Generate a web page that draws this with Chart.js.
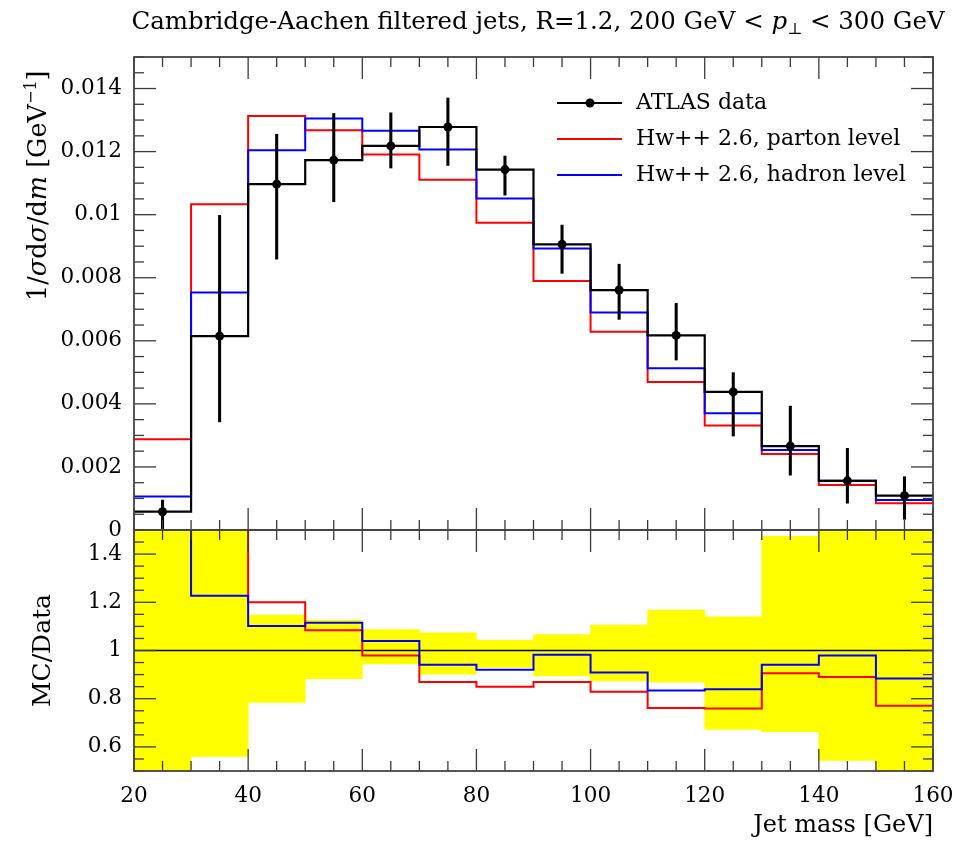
<!DOCTYPE html>
<html>
<head>
<meta charset="utf-8">
<script src="https://cdn.jsdelivr.net/npm/chart.js@4.4.1/dist/chart.umd.min.js"></script>
<style>
html,body{margin:0;padding:0;background:#ffffff;}
#wrap{position:relative;width:971px;height:844px;}
canvas{display:block;}
</style>
</head>
<body>
<div id="wrap"><canvas id="c" width="971" height="844"></canvas></div>
<script>
// ---------- data ----------
const binEdges   = [20, 30, 40, 50, 60, 70, 80, 90, 100, 110, 120, 130, 140, 150, 160];
const binCenters = [25, 35, 45, 55, 65, 75, 85, 95, 105, 115, 125, 135, 145, 155];

// ATLAS data: 1/sigma dsigma/dm [GeV^-1]
const dataVals  = [0.00058, 0.00615, 0.01097, 0.01173, 0.01218, 0.01278, 0.01143, 0.00906, 0.00761, 0.00617, 0.00438, 0.00266, 0.00156, 0.00109];
const dataErrLo = [0.00000, 0.00343, 0.00859, 0.01041, 0.01148, 0.01156, 0.01062, 0.00814, 0.00668, 0.00539, 0.00298, 0.00174, 0.00085, 0.00034];
const dataErrHi = [0.00095, 0.00998, 0.01255, 0.01321, 0.01323, 0.01370, 0.01186, 0.00967, 0.00843, 0.00719, 0.00499, 0.00393, 0.00259, 0.00169];

// Herwig++ 2.6
const partonVals = [0.00288, 0.01033, 0.01313, 0.01268, 0.01191, 0.01111, 0.00974, 0.00790, 0.00629, 0.00469, 0.00331, 0.00241, 0.00143, 0.00085];
const hadronVals = [0.00106, 0.00753, 0.01204, 0.01305, 0.01266, 0.01207, 0.01051, 0.00893, 0.00690, 0.00513, 0.00370, 0.00254, 0.00156, 0.00095];

// ratio panel (MC / Data)
const partonRatio = [4.97, 1.68, 1.200, 1.084, 0.979, 0.869, 0.850, 0.869, 0.829, 0.761, 0.759, 0.906, 0.890, 0.771];
const hadronRatio = [1.83, 1.227, 1.102, 1.115, 1.039, 0.941, 0.920, 0.982, 0.909, 0.834, 0.839, 0.941, 0.979, 0.884];
const bandLo = [0.00, 0.561, 0.785, 0.883, 0.944, 0.902, 0.930, 0.895, 0.874, 0.869, 0.673, 0.663, 0.544, 0.31];
const bandHi = [1.64, 1.62, 1.147, 1.126, 1.087, 1.073, 1.042, 1.066, 1.105, 1.168, 1.140, 1.474, 1.66, 1.55];

// tick labels
const xTickVals  = [20, 40, 60, 80, 100, 120, 140, 160];
const xTickLabels = ['20', '40', '60', '80', '100', '120', '140', '160'];
const yTickVals  = [0, 0.002, 0.004, 0.006, 0.008, 0.01, 0.012, 0.014];
const yTickLabels = ['0', '0.002', '0.004', '0.006', '0.008', '0.01', '0.012', '0.014'];
const rTickVals  = [0.6, 0.8, 1.0, 1.2, 1.4];
const rTickLabels = ['0.6', '0.8', '1', '1.2', '1.4'];

const seriesNames = ['ATLAS data', 'Hw++ 2.6, parton level', 'Hw++ 2.6, hadron level'];

// ---------- helpers ----------
const FONT = '"DejaVu Serif", "Liberation Serif", serif';
function histPoints(vals) {
  const pts = [];
  vals.forEach((v, i) => { pts.push({x: binEdges[i], y: v}); pts.push({x: binEdges[i + 1], y: v}); });
  return pts;
}
function drawRich(ctx, x, y, segs, measureOnly) {
  let cx = x;
  for (const s of segs) {
    ctx.font = s.font;
    if (!measureOnly) ctx.fillText(s.t, cx, y + (s.dy || 0));
    cx += ctx.measureText(s.t).width;
  }
  return cx - x;
}

// ---------- plugins ----------
const panelClip = {
  id: 'panelClip',
  beforeDatasetDraw(chart, args) {
    const ys = chart.scales[args.meta.yAxisID];
    const ca = chart.chartArea, ctx = chart.ctx;
    ctx.save();
    ctx.beginPath();
    ctx.rect(ca.left, ys.top, ca.right - ca.left, ys.bottom - ys.top);
    ctx.clip();
  },
  afterDatasetDraw(chart) { chart.ctx.restore(); }
};

const frameTicks = {
  id: 'frameTicks',
  afterDatasetsDraw(chart) {
    const ctx = chart.ctx, xs = chart.scales.x;
    const L = xs.left, R = xs.right;
    ctx.save();
    const seg = (x1, y1, x2, y2) => { ctx.beginPath(); ctx.moveTo(x1, y1); ctx.lineTo(x2, y2); ctx.stroke(); };
    const panels = [
      {id: 'y', min: 0, max: 0.015, minor: 0.0005, major: 0.002},
      {id: 'y2', min: 0.5, max: 1.5, minor: 0.05, major: 0.2}
    ];
    for (const p of panels) {
      const ys = chart.scales[p.id];
      const T = ys.top, B = ys.bottom;
      ctx.strokeStyle = '#3a3a3a';
      ctx.lineWidth = 1.3;
      for (let k = 0; k <= 28; k++) {
        const v = 20 + 5 * k;
        const px = xs.getPixelForValue(v);
        const len = (v % 20 === 0) ? 22 : 10;
        seg(px, T, px, T + len);
        seg(px, B, px, B - len);
      }
      const n = Math.round((p.max - p.min) / p.minor);
      for (let k = 0; k <= n; k++) {
        const v = p.min + k * p.minor;
        const q = v / p.major;
        const isMajor = Math.abs(q - Math.round(q)) < 1e-6;
        const py = ys.getPixelForValue(v);
        const len = isMajor ? 22 : 10;
        seg(L, py, L + len, py);
        seg(R, py, R - len, py);
      }
      ctx.lineWidth = 1.8;
      ctx.strokeStyle = '#444';
      ctx.strokeRect(L, T, R - L, B - T);
    }
    ctx.restore();
  }
};

const texts = {
  id: 'texts',
  afterDraw(chart) {
    const ctx = chart.ctx;
    ctx.save();
    ctx.fillStyle = '#000';
    ctx.textBaseline = 'alphabetic';
    ctx.textAlign = 'left';
    // plot title
    const reg = '24.5px ' + FONT, ita = 'italic 24.5px ' + FONT, sub = '16px ' + FONT;
    const tsegs = [
      {t: 'Cambridge-Aachen filtered jets, R=1.2, 200 GeV < ', font: reg},
      {t: 'p', font: ita},
      {t: '\u22A5', font: sub, dy: 5},
      {t: ' < 300 GeV', font: reg}
    ];
    const tw = drawRich(ctx, 0, 0, tsegs, true);
    drawRich(ctx, 538 - tw / 2, 29, tsegs);

    // main y-axis title (rotated)
    const r2 = '25.5px ' + FONT, i2 = 'italic 25.5px ' + FONT, s2 = '16px ' + FONT;
    const ysegs = [
      {t: '1/', font: r2}, {t: '\u03C3', font: i2}, {t: 'd', font: r2}, {t: '\u03C3', font: i2},
      {t: '/d', font: r2}, {t: 'm', font: i2}, {t: ' [GeV', font: r2},
      {t: '\u22121', font: s2, dy: -10}, {t: ']', font: r2}
    ];
    ctx.translate(46, 301);
    ctx.rotate(-Math.PI / 2);
    drawRich(ctx, 0, 0, ysegs);
    ctx.setTransform(1, 0, 0, 1, 0, 0);

    // legend
    const rows = [
      {name: seriesNames[0], color: '#000', dot: true, y: 103},
      {name: seriesNames[1], color: '#ff0000', dot: false, y: 139},
      {name: seriesNames[2], color: '#0000ff', dot: false, y: 175}
    ];
    ctx.font = '22px ' + FONT;
    ctx.textBaseline = 'middle';
    for (const r of rows) {
      ctx.strokeStyle = r.color;
      ctx.lineWidth = 2;
      ctx.beginPath(); ctx.moveTo(557, r.y); ctx.lineTo(622, r.y); ctx.stroke();
      if (r.dot) { ctx.fillStyle = '#000'; ctx.beginPath(); ctx.arc(590, r.y, 4.5, 0, Math.PI * 2); ctx.fill(); }
      ctx.fillStyle = '#000';
      ctx.fillText(r.name, 636, r.y);
    }
    ctx.restore();
  }
};

// ---------- chart ----------
const tickFont = {family: FONT, size: 21.5};
new Chart(document.getElementById('c'), {
  type: 'line',
  data: {
    datasets: [
      { type: 'bar', label: 'band', yAxisID: 'y2', order: 10,
        data: binCenters.map((c, i) => ({x: c, y: [bandLo[i], bandHi[i]]})),
        backgroundColor: '#ffff00', borderWidth: 0, barPercentage: 1, categoryPercentage: 1, grouped: false },
      { label: 'unity', yAxisID: 'y2', order: 9,
        data: [{x: binEdges[0], y: 1}, {x: binEdges[binEdges.length - 1], y: 1}],
        borderColor: '#000', borderWidth: 1.6, pointRadius: 0 },
      { label: 'partonRatio', yAxisID: 'y2', order: 8, data: histPoints(partonRatio),
        borderColor: '#ff0000', borderWidth: 2, pointRadius: 0 },
      { label: 'hadronRatio', yAxisID: 'y2', order: 7, data: histPoints(hadronRatio),
        borderColor: '#0000ff', borderWidth: 2, pointRadius: 0 },
      { label: seriesNames[1], yAxisID: 'y', order: 6, data: histPoints(partonVals),
        borderColor: '#ff0000', borderWidth: 2, pointRadius: 0 },
      { label: seriesNames[2], yAxisID: 'y', order: 5, data: histPoints(hadronVals),
        borderColor: '#0000ff', borderWidth: 2, pointRadius: 0 },
      { label: seriesNames[0], yAxisID: 'y', order: 4, data: histPoints(dataVals),
        borderColor: '#000', borderWidth: 2.2, pointRadius: 0 },
      { type: 'bar', label: 'errors', yAxisID: 'y', order: 3,
        data: binCenters.map((c, i) => ({x: c, y: [dataErrLo[i], dataErrHi[i]]})),
        backgroundColor: '#000', borderWidth: 0, barThickness: 2.4, grouped: false },
      { label: 'points', yAxisID: 'y', order: 2,
        data: binCenters.map((c, i) => ({x: c, y: dataVals[i]})),
        showLine: false, pointRadius: 4.5, pointBorderWidth: 0, pointBackgroundColor: '#000' }
    ]
  },
  options: {
    responsive: false,
    animation: false,
    devicePixelRatio: 1,
    layout: {padding: {left: 0, right: 38, top: 57, bottom: 0}},
    plugins: {legend: {display: false}, tooltip: {enabled: false}, title: {display: false}},
    events: [],
    scales: {
      x: {
        type: 'linear', position: 'bottom', min: 20, max: 160, offset: false,
        grid: {display: false, drawTicks: false, offset: false}, border: {display: false},
        afterBuildTicks: s => { s.ticks = xTickVals.map(v => ({value: v})); },
        afterFit: s => { s.height = 73; },
        ticks: {autoSkip: false, maxRotation: 0, padding: 13, color: '#000', font: tickFont,
                callback: (v, i) => xTickLabels[i]},
        title: {display: true, text: 'Jet mass [GeV]', align: 'end', color: '#000',
                font: {family: FONT, size: 24}, padding: {top: 0, bottom: 4}}
      },
      y: {
        type: 'linear', position: 'left', stack: 'panels', stackWeight: 473, weight: 1,
        min: 0, max: 0.015,
        grid: {display: false, drawTicks: false}, border: {display: false},
        afterBuildTicks: s => { s.ticks = yTickVals.map(v => ({value: v})); },
        afterFit: s => { s.width = 134; },
        ticks: {autoSkip: false, padding: 12, color: '#000', font: tickFont,
                callback: (v, i) => yTickLabels[i]}
      },
      y2: {
        type: 'linear', position: 'left', stack: 'panels', stackWeight: 241, weight: 0,
        min: 0.5, max: 1.5,
        grid: {display: false, drawTicks: false}, border: {display: false},
        afterBuildTicks: s => { s.ticks = rTickVals.map(v => ({value: v})); },
        afterFit: s => { s.width = 134; },
        ticks: {autoSkip: false, padding: 12, color: '#000', font: tickFont,
                callback: (v, i) => rTickLabels[i]},
        title: {display: true, text: 'MC/Data', color: '#000', font: {family: FONT, size: 25},
                padding: {top: 28, bottom: 0}}
      }
    }
  },
  plugins: [panelClip, frameTicks, texts]
});
</script>
</body>
</html>
